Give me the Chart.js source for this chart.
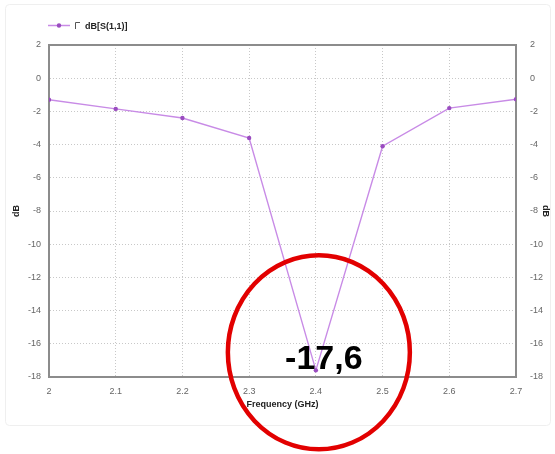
<!DOCTYPE html>
<html>
<head>
<meta charset="utf-8">
<script src="https://cdn.jsdelivr.net/npm/chart.js@4.4.1/dist/chart.umd.min.js"></script>
<style>
  html, body { margin: 0; padding: 0; background: #ffffff; }
  #wrap { width: 555px; height: 454px; position: relative; }
</style>
</head>
<body>
<div id="wrap"><canvas id="c" width="555" height="454"></canvas></div>
<script>
// Return loss of the antenna, dB[S(1,1)] versus frequency
const frequencies = [2.0, 2.1, 2.2, 2.3, 2.4, 2.5, 2.6, 2.7];
const s11dB = [-1.3, -1.85, -2.4, -3.6, -17.6, -4.1, -1.8, -1.27];
const seriesLabel = 'dB[S(1,1)]';
const xTitle = 'Frequency (GHz)';
const yTitle = 'dB';
const minIndex = s11dB.indexOf(Math.min(...s11dB));

const tickFont = { family: 'Liberation Sans, Arial, sans-serif', size: 9 };
const titleFont = { family: 'Liberation Sans, Arial, sans-serif', size: 9, weight: 'bold' };
const gridStyle = { color: '#c8c8c8', lineWidth: 1, drawTicks: false };
// border.dash styles the grid lines; the axis line itself stays solid
const borderStyle = { color: '#8c8c8c', width: 2, dash: [1, 2] };

// faint outer frame behind the chart
const framePlugin = {
  id: 'frame',
  beforeDraw(chart) {
    const ctx = chart.ctx;
    ctx.save();
    ctx.strokeStyle = '#efefef';
    ctx.lineWidth = 1;
    ctx.beginPath();
    ctx.roundRect(5.5, 4.5, 545, 421, 4);
    ctx.stroke();
    ctx.restore();
  }
};

// legend line with marker, tick box and series name
const legendPlugin = {
  id: 'seriesLegend',
  afterDraw(chart) {
    const ctx = chart.ctx;
    const ds = chart.data.datasets[0];
    ctx.save();
    const y = 25.5;
    ctx.strokeStyle = ds.borderColor;
    ctx.lineWidth = 1.5;
    ctx.beginPath();
    ctx.moveTo(48, y);
    ctx.lineTo(70, y);
    ctx.stroke();
    ctx.fillStyle = ds.pointBackgroundColor;
    ctx.beginPath();
    ctx.arc(59, y, 2.2, 0, Math.PI * 2);
    ctx.fill();
    ctx.strokeStyle = '#555';
    ctx.lineWidth = 1;
    ctx.beginPath();
    ctx.moveTo(75.5, 29);
    ctx.lineTo(75.5, 22.5);
    ctx.lineTo(80, 22.5);
    ctx.stroke();
    ctx.fillStyle = '#222';
    ctx.font = 'bold 9px "Liberation Sans", Arial, sans-serif';
    ctx.textBaseline = 'middle';
    ctx.fillText(ds.label, 85, 27);
    ctx.restore();
  }
};

// circled call-out on the resonance minimum
const minimumPlugin = {
  id: 'minimumCallout',
  afterDraw(chart) {
    const meta = chart.getDatasetMeta(0);
    const pt = meta.data[minIndex];
    const value = chart.data.datasets[0].data[minIndex].y;
    const ctx = chart.ctx;
    ctx.save();
    ctx.strokeStyle = '#e20000';
    ctx.lineWidth = 4.5;
    ctx.beginPath();
    ctx.ellipse(pt.x + 3, pt.y - 18, 91, 97, 0, 0, Math.PI * 2);
    ctx.stroke();
    ctx.fillStyle = '#000';
    ctx.font = 'bold 34px "Liberation Sans", Arial, sans-serif';
    ctx.textAlign = 'center';
    ctx.textBaseline = 'alphabetic';
    ctx.fillText(String(value).replace('.', ','), pt.x + 8, pt.y - 1);
    ctx.restore();
  }
};

new Chart(document.getElementById('c'), {
  type: 'line',
  data: {
    datasets: [{
      label: seriesLabel,
      data: frequencies.map((f, i) => ({ x: f, y: s11dB[i] })),
      borderColor: '#c88be6',
      borderWidth: 1.4,
      pointBackgroundColor: '#9a4cc0',
      pointBorderColor: '#9a4cc0',
      pointRadius: 2.2,
      pointBorderWidth: 0,
      tension: 0
    }]
  },
  options: {
    responsive: false,
    animation: false,
    layout: { padding: { top: 45, left: 0, right: 0, bottom: 0 } },
    plugins: { legend: { display: false }, tooltip: { enabled: false } },
    scales: {
      x: {
        type: 'linear', position: 'bottom', min: 2, max: 2.7,
        afterFit: s => { s.height = 77; },
        ticks: { stepSize: 0.1, padding: 9, color: '#666', font: tickFont,
                 callback: v => (Math.round(v * 10) / 10).toString() },
        grid: Object.assign({}, gridStyle),
        border: Object.assign({}, borderStyle),
        title: { display: true, text: xTitle, color: '#222', font: titleFont,
                 padding: { top: 0, bottom: 44 } }
      },
      xTop: {
        type: 'linear', position: 'top', min: 2, max: 2.7,
        afterFit: s => { s.height = 0; },
        ticks: { display: false },
        grid: { display: false },
        border: Object.assign({}, borderStyle)
      },
      y: {
        type: 'linear', position: 'left', min: -18, max: 2,
        afterFit: s => { s.width = 49; },
        ticks: { stepSize: 2, padding: 8, color: '#666', font: tickFont },
        grid: Object.assign({}, gridStyle),
        border: Object.assign({}, borderStyle),
        title: { display: true, text: yTitle, color: '#222', font: titleFont,
                 padding: { top: 11.5, bottom: 0 } }
      },
      yRight: {
        type: 'linear', position: 'right', min: -18, max: 2,
        afterFit: s => { s.width = 39; },
        ticks: { stepSize: 2, padding: 6, color: '#666', font: tickFont },
        grid: { display: false },
        border: Object.assign({}, borderStyle),
        title: { display: true, text: yTitle, color: '#222', font: titleFont,
                 padding: { top: 4.5, bottom: 0 } }
      }
    }
  },
  plugins: [framePlugin, legendPlugin, minimumPlugin]
});
</script>
</body>
</html>
